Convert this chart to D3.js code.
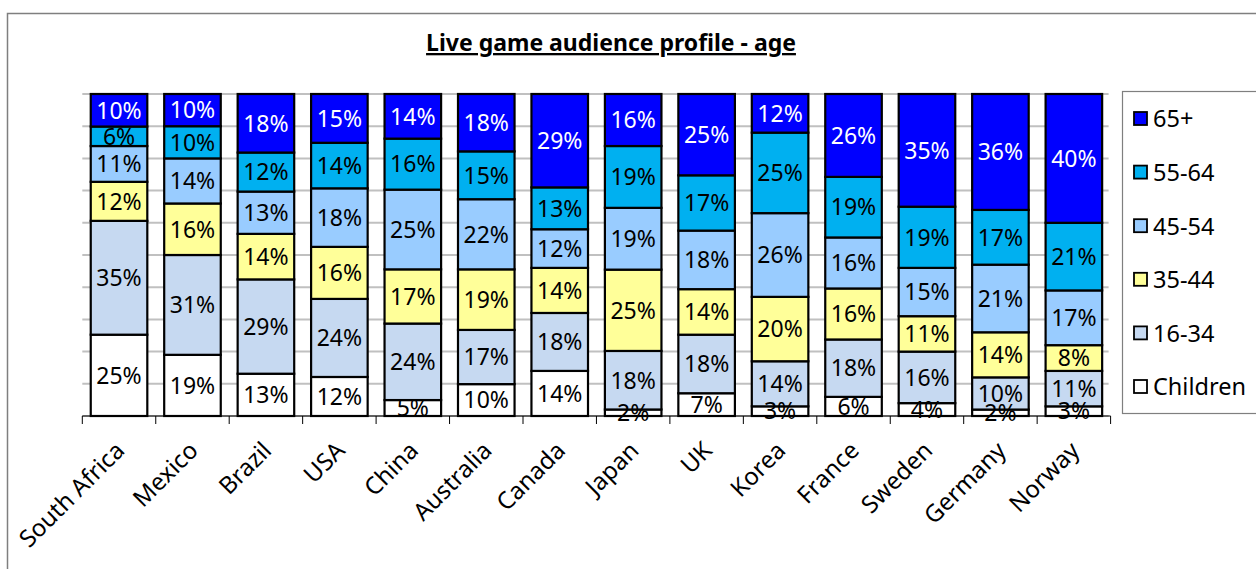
<!DOCTYPE html>
<html>
<head>
<meta charset="utf-8">
<script src="https://cdn.jsdelivr.net/npm/d3@7"></script>
<style>
  html, body { margin: 0; padding: 0; background: #fff; }
  svg { display: block; font-family: "Noto Sans", "Open Sans", sans-serif; }
</style>
</head>
<body>
<svg id="chart" width="1256" height="569"></svg>
<script>
// Countries, left to right
const countries = ["South Africa", "Mexico", "Brazil", "USA", "China", "Australia", "Canada",
                   "Japan", "UK", "Korea", "France", "Sweden", "Germany", "Norway"];

// Age groups, stacked bottom to top
const ageGroups = ["Children", "16-34", "35-44", "45-54", "55-64", "65+"];

// Share of live game audience (%) per age group, one value per country
const children = [25, 19, 13, 12, 5, 10, 14, 2, 7, 3, 6, 4, 2, 3];
const age16to34 = [35, 31, 29, 24, 24, 17, 18, 18, 18, 14, 18, 16, 10, 11];
const age35to44 = [12, 16, 14, 16, 17, 19, 14, 25, 14, 20, 16, 11, 14, 8];
const age45to54 = [11, 14, 13, 18, 25, 22, 12, 19, 18, 26, 16, 15, 21, 17];
const age55to64 = [6, 10, 12, 14, 16, 15, 13, 19, 17, 25, 19, 19, 17, 21];
const age65plus = [10, 10, 18, 15, 14, 18, 29, 16, 25, 12, 26, 35, 36, 40];

const seriesValues = [children, age16to34, age35to44, age45to54, age55to64, age65plus];
const fills = ["#ffffff", "#c6d9f1", "#ffff99", "#99ccff", "#00b0f0", "#0000ff"];
const labelColors = ["#000", "#000", "#000", "#000", "#000", "#fff"];

const title = "Live game audience profile - age";

const rows = countries.map((c, i) => {
  const r = { country: c };
  ageGroups.forEach((g, k) => { r[g] = seriesValues[k][i]; });
  return r;
});

// 100% stacked layout
const stack = d3.stack().keys(ageGroups).offset(d3.stackOffsetExpand);
const layers = stack(rows);

const svg = d3.select("#chart");

// Outer chart frame
svg.append("rect")
  .attr("x", 7.5).attr("y", 13.5)
  .attr("width", 1300).attr("height", 600)
  .attr("fill", "none").attr("stroke", "#7f7f7f").attr("stroke-width", 1.5);

const plot = { left: 82.3, right: 1110.6, top: 94, bottom: 416 };

const x = d3.scaleBand().domain(countries).range([plot.left, plot.right]).paddingInner(0.23).paddingOuter(0.115);
const y = d3.scaleLinear().domain([0, 1]).range([plot.bottom, plot.top]);

// Horizontal gridlines every 10%
svg.append("g")
  .selectAll("line")
  .data(d3.range(0, 1.0001, 0.1))
  .join("line")
  .attr("x1", plot.left).attr("x2", plot.right - 2)
  .attr("y1", d => y(d)).attr("y2", d => y(d))
  .attr("stroke", "#c0c0c0").attr("stroke-width", 2);

// Stacked bars
const layerG = svg.append("g")
  .selectAll("g")
  .data(layers)
  .join("g")
  .attr("fill", (d, k) => fills[k]);

layerG.selectAll("rect")
  .data(d => d)
  .join("rect")
  .attr("x", d => x(d.data.country))
  .attr("width", x.bandwidth())
  .attr("y", d => y(d[1]))
  .attr("height", d => y(d[0]) - y(d[1]))
  .attr("stroke", "#000").attr("stroke-width", 2.2);

// Value labels centred in each segment
layers.forEach((layer, k) => {
  svg.append("g")
    .selectAll("text")
    .data(layer)
    .join("text")
    .attr("x", d => x(d.data.country) + x.bandwidth() / 2)
    .attr("y", d => (y(d[0]) + y(d[1])) / 2)
    .attr("dy", "0.36em")
    .attr("text-anchor", "middle")
    .attr("font-size", 23)
    .attr("fill", labelColors[k])
    .text(d => d.data[layer.key] + "%");
});

// Category axis
const xAxis = svg.append("g")
  .attr("transform", `translate(0,${plot.bottom})`);
xAxis.append("line")
  .attr("x1", plot.left).attr("x2", plot.right)
  .attr("stroke", "#000").attr("stroke-width", 1);
const step = x.step();
xAxis.selectAll("line.tick")
  .data(d3.range(countries.length + 1))
  .join("line")
  .attr("class", "tick")
  .attr("x1", i => plot.left + i * step).attr("x2", i => plot.left + i * step)
  .attr("y1", 0).attr("y2", 8)
  .attr("stroke", "#000").attr("stroke-width", 1);
xAxis.selectAll("text")
  .data(countries)
  .join("text")
  .attr("transform", d => `translate(${x(d) + x.bandwidth() / 2 + 7},${36}) rotate(-45)`)
  .attr("text-anchor", "end")
  .attr("font-size", 24)
  .attr("fill", "#000")
  .text(d => d);

// Title
svg.append("text")
  .attr("x", 611).attr("y", 51)
  .attr("text-anchor", "middle")
  .attr("font-size", 23)
  .attr("font-weight", "bold")
  .attr("text-decoration", "underline")
  .text(title);

// Legend, top entry first
const legend = svg.append("g");
legend.append("rect")
  .attr("x", 1122.5).attr("y", 91.5)
  .attr("width", 200).attr("height", 322)
  .attr("fill", "#fff").attr("stroke", "#7f7f7f").attr("stroke-width", 1.2);
const legendOrder = ageGroups.map((g, k) => ({ g, k })).reverse();
const ly = d3.scalePoint().domain(legendOrder.map(d => d.g)).range([119, 387]);
const item = legend.selectAll("g.item")
  .data(legendOrder)
  .join("g")
  .attr("class", "item")
  .attr("transform", d => `translate(1134,${ly(d.g)})`);
item.append("rect")
  .attr("x", 0).attr("y", -7).attr("width", 13).attr("height", 13)
  .attr("fill", d => fills[d.k]).attr("stroke", "#000").attr("stroke-width", 1.8);
item.append("text")
  .attr("x", 19).attr("dy", "0.36em")
  .attr("font-size", 23.5)
  .text(d => d.g);
</script>
</body>
</html>
